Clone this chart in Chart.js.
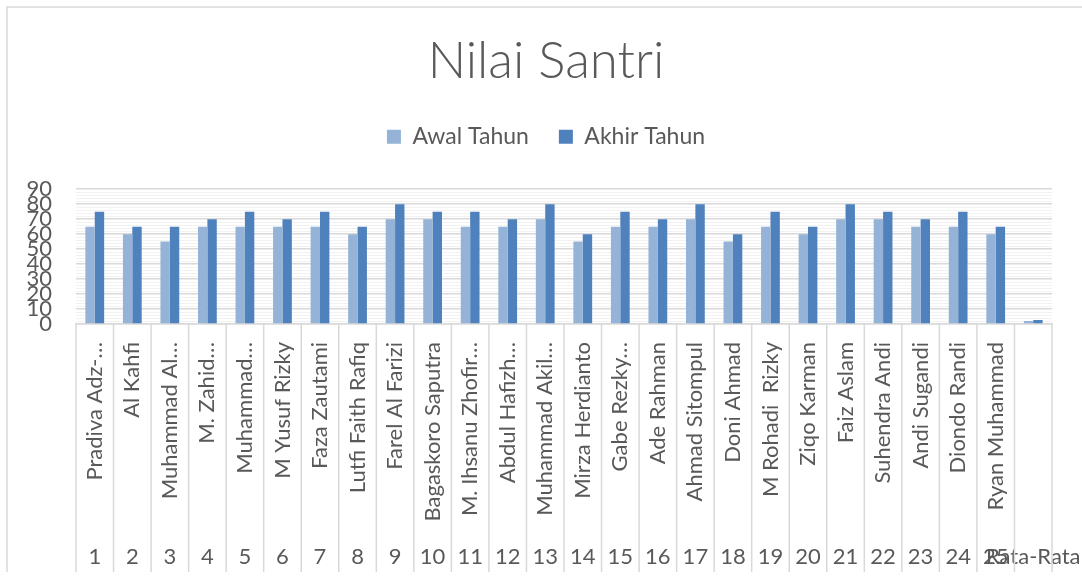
<!DOCTYPE html>
<html>
<head>
<meta charset="utf-8">
<title>Nilai Santri</title>
<script src="https://cdn.jsdelivr.net/npm/chart.js@4.4.1/dist/chart.umd.min.js"></script>
<style>
  html, body { margin: 0; padding: 0; background: #fff; }
  #wrap { width: 1082px; height: 578px; }
</style>
</head>
<body>
<div id="wrap"><canvas id="chart" width="1082" height="578"></canvas></div>
<script>
// nama santri (teks yang tampil di sumbu, sebagian terpotong seperti di Excel)
const namaSantri = [
  'Pradiva Adz-…', 'Al Kahfi', 'Muhammad Al…', 'M. Zahid…', 'Muhammad…',
  'M Yusuf Rizky', 'Faza Zautami', 'Lutfi Faith Rafiq', 'Farel Al Farizi', 'Bagaskoro Saputra',
  'M. Ihsanu Zhofir…', 'Abdul Hafizh…', 'Muhammad Akil…', 'Mirza Herdianto', 'Gabe Rezky…',
  'Ade Rahman', 'Ahmad Sitompul', 'Doni Ahmad', 'M Rohadi  Rizky', 'Ziqo Karman',
  'Faiz Aslam', 'Suhendra Andi', 'Andi Sugandi', 'Diondo Randi', 'Ryan Muhammad', ''
];

// nomor urut (level bawah sumbu kategori)
const nomorUrut = [
  '1', '2', '3', '4', '5', '6', '7', '8', '9', '10', '11', '12', '13',
  '14', '15', '16', '17', '18', '19', '20', '21', '22', '23', '24', '25', 'Rata-Rata'
];

const awalTahun = [65, 60, 55, 65, 65, 65, 65, 60, 70, 70, 65, 65, 70, 55, 65, 65, 70, 55, 65, 60, 70, 70, 65, 65, 60, 2];
const akhirTahun = [75, 65, 65, 70, 75, 70, 75, 65, 80, 75, 75, 70, 80, 60, 75, 70, 80, 60, 75, 65, 80, 75, 70, 75, 65, 2.6];

// label sumbu Y
const yMin = 0;
const yMax = 90;
const yLabelStep = 10;
const yMinorStep = 2;

const textColor = '#595959';
const fontName = 'Lato, "Open Sans", sans-serif';

// jarak ekstra di bawah legenda
const legendGap = {
  id: 'legendGap',
  beforeInit(chart) {
    const origFit = chart.legend.fit;
    chart.legend.fit = function () {
      origFit.call(this);
      this.height += 31;
    };
  }
};

// garis pemisah kategori + bingkai chart
const categoryLines = {
  id: 'categoryLines',
  afterDraw(chart) {
    const { ctx, scales: { x } } = chart;
    ctx.save();
    ctx.strokeStyle = '#d9d9d9';
    ctx.lineWidth = 1.5;
    const bottom = 572;
    for (let i = 0; i <= namaSantri.length; i++) {
      const px = x.getPixelForValue(i - 0.5);
      ctx.beginPath();
      ctx.moveTo(px, x.top);
      ctx.lineTo(px, bottom);
      ctx.stroke();
    }
    // bingkai luar (kanan & bawah terpotong)
    ctx.beginPath();
    ctx.moveTo(7, bottom);
    ctx.lineTo(7, 7);
    ctx.lineTo(1082, 7);
    ctx.stroke();
    ctx.restore();
  }
};

// label boleh keluar dari area, jangan persempit chart
const fixHeight = (h) => (scale) => {
  scale.height = h;
  scale.paddingLeft = 0;
  scale.paddingRight = 0;
};

const ctx = document.getElementById('chart').getContext('2d');
new Chart(ctx, {
  type: 'bar',
  data: {
    labels: namaSantri,
    datasets: [
      {
        label: 'Awal Tahun',
        data: awalTahun,
        backgroundColor: '#95b3d7',
        borderWidth: 0
      },
      {
        label: 'Akhir Tahun',
        data: akhirTahun,
        backgroundColor: '#4f81bd',
        borderWidth: 0
      }
    ]
  },
  options: {
    responsive: false,
    animation: false,
    categoryPercentage: 0.5,
    barPercentage: 1.0,
    layout: {
      autoPadding: false,
      padding: { left: 15, right: 5, top: 0, bottom: 0 }
    },
    plugins: {
      title: {
        display: true,
        text: 'Nilai Santri',
        color: textColor,
        font: { family: fontName, size: 51, weight: '300' },
        padding: { top: 31, bottom: 3 }
      },
      legend: {
        display: true,
        position: 'top',
        labels: {
          boxWidth: 14,
          boxHeight: 14,
          padding: 30,
          color: textColor,
          font: { family: fontName, size: 23 }
        }
      },
      tooltip: { enabled: false }
    },
    scales: {
      x: {
        offset: true,
        weight: 0,
        afterFit: fixHeight(207),
        grid: { display: false },
        border: { display: true, color: '#d9d9d9', width: 1.5 },
        ticks: {
          autoSkip: false,
          minRotation: 90,
          maxRotation: 90,
          padding: 10,
          color: textColor,
          font: { family: fontName, size: 22 }
        }
      },
      x2: {
        type: 'category',
        labels: nomorUrut,
        position: 'bottom',
        offset: true,
        weight: 1,
        afterFit: fixHeight(47),
        grid: { display: false },
        border: { display: false },
        ticks: {
          autoSkip: false,
          minRotation: 0,
          maxRotation: 0,
          padding: 5,
          color: textColor,
          font: { family: fontName, size: 22 }
        }
      },
      y: {
        min: yMin,
        max: yMax,
        afterFit: (scale) => { scale.width = 61; },
        border: { display: false },
        grid: {
          drawTicks: false,
          color: (c) => c.tick.value % yLabelStep === 0 ? '#d9d9d9' : '#f2f2f2',
          lineWidth: (c) => c.tick.value % yLabelStep === 0 ? 1.5 : 1
        },
        ticks: {
          stepSize: yMinorStep,
          autoSkip: false,
          padding: 24,
          color: textColor,
          font: { family: fontName, size: 22 },
          callback: (v) => v % yLabelStep === 0 ? v : ''
        }
      },
      // sumbu kosong di kanan, hanya untuk menggeser judul/legenda ke tengah
      y2: {
        position: 'right',
        display: true,
        afterFit: (scale) => { scale.width = 25; },
        grid: { display: false },
        border: { display: false },
        ticks: { display: false }
      }
    }
  },
  plugins: [legendGap, categoryLines]
});
</script>
</body>
</html>
